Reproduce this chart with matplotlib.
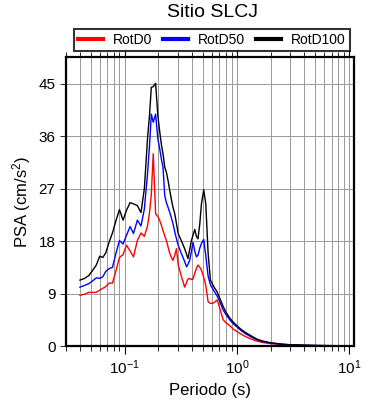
import numpy as np
import matplotlib
matplotlib.use('Agg')
import matplotlib.pyplot as plt
from matplotlib.ticker import FixedLocator, LogLocator, NullFormatter

plt.rcParams['font.family'] = ['Liberation Sans', 'DejaVu Sans']
plt.rcParams['mathtext.default'] = 'regular'

# periodos (s)
periodo = [0.040, 0.044, 0.048, 0.052, 0.056, 0.060, 0.064, 0.068, 0.073, 0.078,
           0.084, 0.090, 0.097, 0.104, 0.112, 0.120, 0.130, 0.140, 0.150, 0.160,
           0.167, 0.173, 0.180, 0.189, 0.198, 0.205, 0.213, 0.220, 0.228, 0.236,
           0.244, 0.252, 0.261, 0.270, 0.280, 0.290, 0.300, 0.320, 0.343, 0.356,
           0.367, 0.380, 0.394, 0.407, 0.422, 0.437, 0.451, 0.468, 0.484, 0.507,
           0.529, 0.555, 0.582, 0.623, 0.667, 0.705, 0.755, 0.800, 0.866, 0.930,
           1.00, 1.10, 1.20, 1.30, 1.50, 1.70, 2.00, 2.50, 3.00, 4.00,
           5.00, 6.50, 8.00, 10.0]

rotd100 = [11.3, 11.6, 12.1, 13.0, 13.9, 15.4, 15.2, 16.0, 17.9, 19.4,
           21.6, 23.4, 21.6, 23.3, 24.6, 24.4, 24.1, 22.9, 27.0, 35.5,
           39.8, 44.4, 44.5, 45.1, 39.5, 37.0, 34.5, 33.0, 30.7, 29.8,
           28.4, 26.8, 25.2, 23.8, 22.7, 21.0, 19.3, 18.1, 16.7, 15.8,
           15.0, 16.5, 18.1, 19.0, 20.0, 18.8, 18.4, 21.0, 24.4, 26.8,
           24.4, 15.9, 11.3, 10.2, 9.3, 8.2, 6.8, 5.8, 4.8, 4.1,
           3.5, 2.8, 2.3, 1.9, 1.2, 0.85, 0.56, 0.33, 0.22, 0.14,
           0.10, 0.07, 0.05, 0.03]

rotd50 = [10.1, 10.4, 10.7, 11.2, 11.7, 11.6, 11.9, 12.8, 13.3, 13.5,
          16.0, 18.1, 17.5, 19.0, 20.5, 19.3, 21.6, 20.6, 23.5, 29.5,
          34.5, 39.8, 38.4, 39.8, 35.5, 34.0, 32.0, 30.7, 25.8, 24.6,
          23.8, 23.0, 22.0, 21.0, 19.6, 18.4, 17.3, 15.9, 14.5, 13.6,
          14.0, 14.7, 16.2, 17.8, 16.3, 15.3, 15.6, 16.8, 17.6, 18.3,
          15.5, 12.0, 10.5, 9.5, 8.6, 7.6, 6.2, 5.4, 4.5, 3.8,
          3.3, 2.6, 2.1, 1.7, 1.1, 0.75, 0.5, 0.3, 0.2, 0.12,
          0.08, 0.06, 0.04, 0.03]

rotd0 = [8.7, 8.9, 9.2, 9.2, 9.2, 9.6, 9.9, 10.2, 10.8, 10.8,
         13.0, 15.2, 15.7, 17.3, 16.3, 15.3, 18.1, 19.4, 18.8, 20.6,
         23.0, 26.0, 33.0, 22.7, 22.2, 21.6, 20.7, 19.8, 18.9, 18.1,
         17.0, 16.0, 15.2, 14.7, 15.6, 16.7, 14.0, 12.0, 10.1, 10.9,
         11.5, 11.6, 11.4, 11.5, 12.5, 13.3, 13.9, 13.5, 13.0, 11.8,
         10.4, 7.6, 7.3, 7.4, 7.9, 6.5, 4.5, 4.0, 3.5, 2.9,
         2.5, 2.0, 1.6, 1.3, 0.85, 0.6, 0.4, 0.25, 0.17, 0.1,
         0.07, 0.05, 0.03, 0.02]

fig = plt.figure(figsize=(3.9, 4.0), dpi=100)
ax = fig.add_axes([0.169, 0.135, 0.739, 0.7225])

ax.plot(periodo, rotd0, color='red', lw=1.0, label='RotD0')
ax.plot(periodo, rotd50, color='blue', lw=1.0, label='RotD50')
ax.plot(periodo, rotd100, color='black', lw=1.0, label='RotD100')

ax.set_xscale('log')
ax.set_xlim(0.03, 11.1)
ax.set_ylim(0, 49.6)
ax.yaxis.set_major_locator(FixedLocator([0, 9, 18, 27, 36, 45]))
ax.xaxis.set_major_locator(LogLocator(base=10, numticks=10))
ax.xaxis.set_minor_locator(LogLocator(base=10, subs=np.arange(2, 10), numticks=20))
ax.xaxis.set_minor_formatter(NullFormatter())

ax.grid(True, which='both', axis='x', color='0.6', lw=0.7)
ax.grid(True, which='major', axis='y', color='0.6', lw=0.7)
ax.set_axisbelow(True)

ax.tick_params(axis='x', which='major', direction='out', length=6, width=0.8,
               top=True, labelsize=11, pad=3)
ax.tick_params(axis='x', which='minor', direction='out', length=3.5, width=0.6, top=True)
ax.tick_params(axis='y', direction='out', length=4, width=0.6, labelsize=11)
for s in ax.spines.values():
    s.set_linewidth(1.6)

ax.set_xlabel('Periodo (s)', fontsize=12)
ax.set_ylabel('PSA (cm/s$^2$)', fontsize=12, labelpad=4)
fig.text(0.545, 0.968, 'Sitio SLCJ', ha='center', va='center', fontsize=14)

leg = ax.legend(loc='lower center', bbox_to_anchor=(0.506, 1.02), ncol=3,
                fontsize=10, frameon=True, fancybox=False, edgecolor='black',
                handlelength=1.8, columnspacing=0.8, handletextpad=0.7,
                borderpad=0.3, borderaxespad=0)
leg.get_frame().set_linewidth(1.5)
for h in leg.get_lines():
    h.set_linewidth(3)

fig.savefig('out.png', dpi=100)
